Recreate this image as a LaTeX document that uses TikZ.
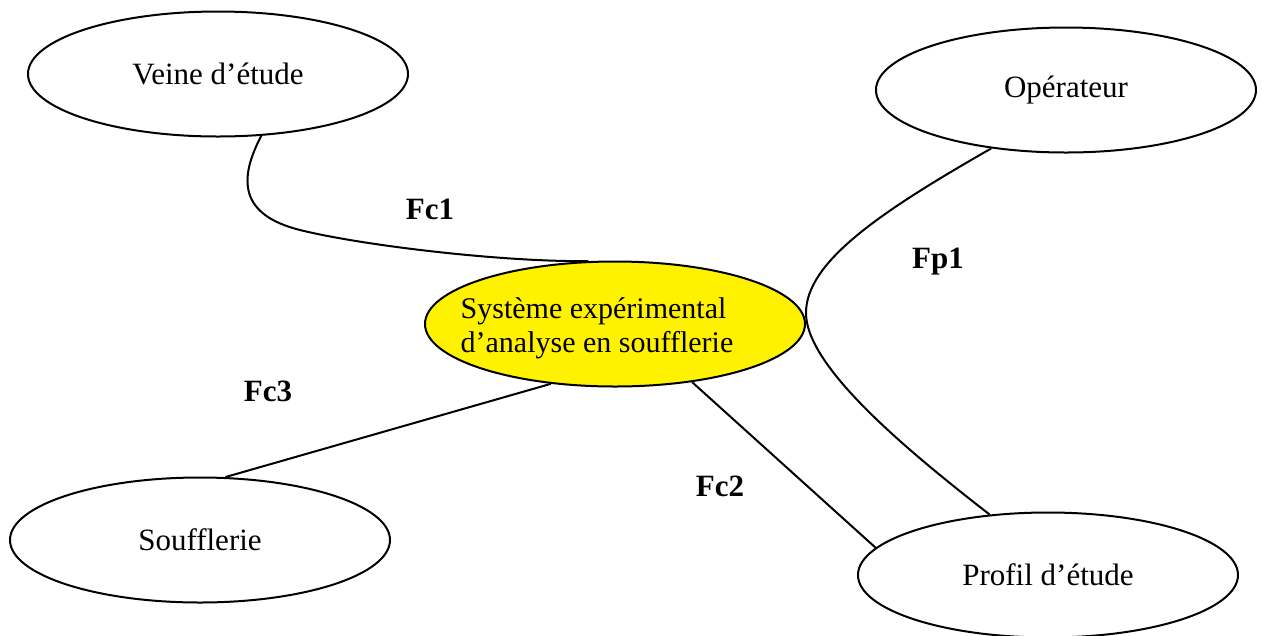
\documentclass[tikz,border=0pt]{standalone}
\usepackage{fontspec}
\setmainfont{Liberation Serif}
\usetikzlibrary{shapes.geometric}

\begin{document}
\begin{tikzpicture}[x=0.4pt,y=-0.4pt,
  every node/.style={font=\fontsize{12.4}{13.8}\selectfont},
  bulle/.style={draw,ellipse,line width=0.8pt,minimum width=152pt,minimum height=50pt,inner sep=0pt},
  lien/.style={line width=0.8pt},
  fct/.style={font=\fontsize{12.4}{13.8}\selectfont\bfseries}]
\useasboundingbox (0,0) rectangle (1262,635);
% milieu exterieur
\node[bulle] (veine) at (218,74) {Veine d’étude};
\node[bulle] (oper) at (1066,90) {Opérateur};
\node[bulle] (souff) at (200,540) {Soufflerie};
\node[bulle] (profil) at (1048,575) {Profil d’étude};
% systeme
\node[bulle,fill=yellow] (syst) at (615,324) {};
\node[align=left,font=\fontsize{12}{13.6}\selectfont] (systtxt) at (597,328) {Système expérimental\\d’analyse en soufflerie};
% fonctions
\draw[lien] (veine.-55) .. controls (238,180) and (240,215) .. (300,230)
  .. controls (360,245) and (500,262) .. (syst.113);
\draw[lien] (oper.-142) .. controls (880,212) and (806,262) .. (806,313)
  .. controls (806,365) and (900,445) .. (profil.134);
\draw[lien] (syst.-37) -- (profil.171);
\draw[lien] (syst.-137) -- (souff.68);
\node[fct] (fc1) at (430,209) {Fc1};
\node[fct] (fp1) at (938,262) {Fp1};
\node[fct] (fc2) at (720,486) {Fc2};
\node[fct] (fc3) at (268,391) {Fc3};
\end{tikzpicture}
\end{document}
